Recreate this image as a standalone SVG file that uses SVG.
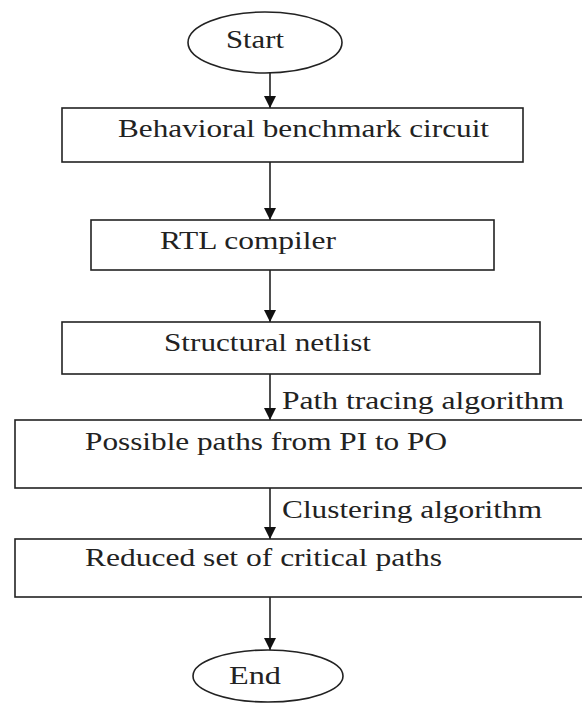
<svg xmlns="http://www.w3.org/2000/svg" width="582" height="704" viewBox="0 0 582 704">
<defs>
<style>
.box{fill:#fff;stroke:#222;stroke-width:1.6}
.t{font-family:"Liberation Serif","Times New Roman",serif;font-size:25px;fill:#222}
.c{stroke:#222;stroke-width:1.6;fill:none}
</style>
<marker id="ah" viewBox="0 0 12 12" refX="12" refY="6" markerWidth="12" markerHeight="12" markerUnits="userSpaceOnUse" orient="auto">
<path d="M0,0 L12,6 L0,12 z" fill="#111"/>
</marker>
</defs>
<rect width="582" height="704" fill="#fff"/>
<g id="connectors">
<line class="c" x1="270" y1="73" x2="270" y2="108" marker-end="url(#ah)"/>
<line class="c" x1="270" y1="162" x2="270" y2="220" marker-end="url(#ah)"/>
<line class="c" x1="270" y1="270" x2="270" y2="322" marker-end="url(#ah)"/>
<line class="c" x1="270" y1="374" x2="270" y2="420" marker-end="url(#ah)"/>
<line class="c" x1="270" y1="488" x2="270" y2="539" marker-end="url(#ah)"/>
<line class="c" x1="270" y1="597" x2="270" y2="650" marker-end="url(#ah)"/>
<text class="t" x="282" y="409" textLength="282" lengthAdjust="spacingAndGlyphs">Path tracing algorithm</text>
<text class="t" x="282" y="518" textLength="260" lengthAdjust="spacingAndGlyphs">Clustering algorithm</text>
</g>
<g id="start">
<ellipse class="box" cx="265" cy="42.5" rx="77" ry="30.5"/>
<text class="t" x="226" y="48" textLength="58" lengthAdjust="spacingAndGlyphs">Start</text>
</g>
<g id="behavioral">
<rect class="box" x="62" y="108" width="461" height="54"/>
<text class="t" x="118" y="137" textLength="371" lengthAdjust="spacingAndGlyphs">Behavioral benchmark circuit</text>
</g>
<g id="rtl">
<rect class="box" x="91" y="220" width="403" height="50"/>
<text class="t" x="160" y="249" textLength="176" lengthAdjust="spacingAndGlyphs">RTL compiler</text>
</g>
<g id="structural">
<rect class="box" x="62" y="322" width="478" height="52"/>
<text class="t" x="164" y="351" textLength="207" lengthAdjust="spacingAndGlyphs">Structural netlist</text>
</g>
<g id="possible">
<rect class="box" x="15" y="420" width="580" height="68"/>
<text class="t" x="85" y="450" textLength="362" lengthAdjust="spacingAndGlyphs">Possible paths from PI to PO</text>
</g>
<g id="reduced">
<rect class="box" x="15" y="539" width="580" height="58"/>
<text class="t" x="85" y="566" textLength="357" lengthAdjust="spacingAndGlyphs">Reduced set of critical paths</text>
</g>
<g id="end">
<ellipse class="box" cx="268" cy="676" rx="75" ry="26"/>
<text class="t" x="229" y="684" textLength="52" lengthAdjust="spacingAndGlyphs">End</text>
</g>
</svg>
